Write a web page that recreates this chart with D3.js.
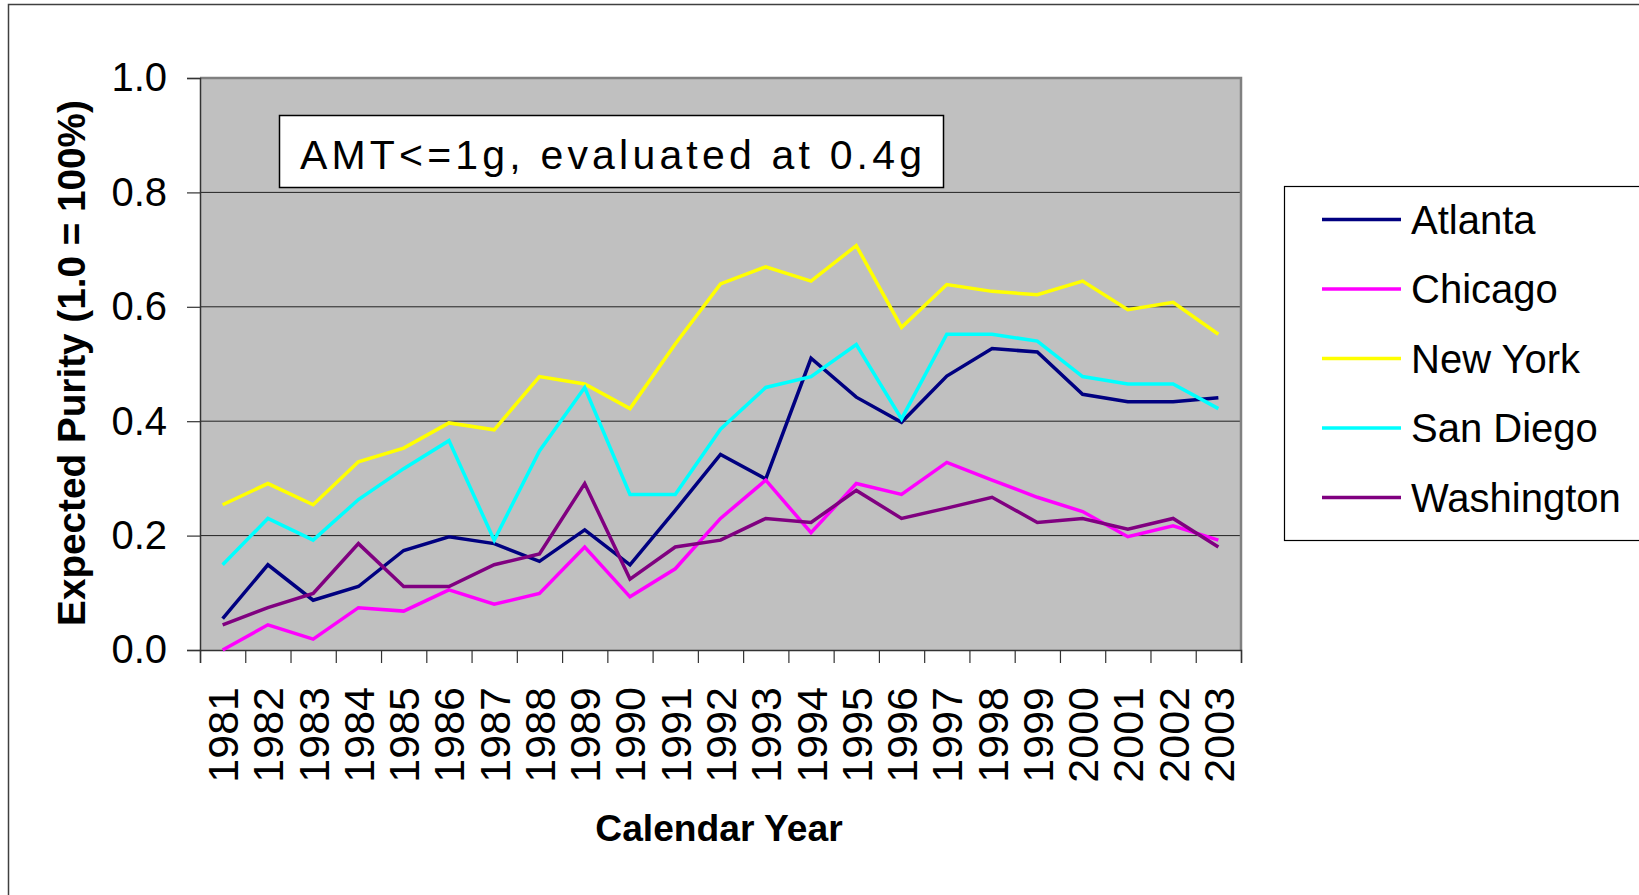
<!DOCTYPE html>
<html>
<head>
<meta charset="utf-8">
<script src="https://cdn.jsdelivr.net/npm/d3@7"></script>
<style>
  html, body { margin: 0; padding: 0; background: #fff; }
  svg { display: block; font-family: "Liberation Sans", Arial, sans-serif; }
</style>
</head>
<body>
<svg id="chart" width="1639" height="895"></svg>
<script>
const years = ["1981","1982","1983","1984","1985","1986","1987","1988","1989","1990","1991","1992",
               "1993","1994","1995","1996","1997","1998","1999","2000","2001","2002","2003"];
const atlanta    = [0.055,0.149,0.087,0.111,0.174,0.198,0.186,0.155,0.210,0.149,0.244,0.342,
                    0.299,0.510,0.442,0.398,0.479,0.527,0.521,0.447,0.434,0.434,0.441];
const chicago    = [0.000,0.044,0.019,0.074,0.068,0.105,0.080,0.099,0.180,0.093,0.142,0.230,
                    0.297,0.205,0.291,0.272,0.328,0.297,0.267,0.242,0.198,0.217,0.192];
const newYork    = [0.254,0.291,0.254,0.329,0.353,0.397,0.385,0.478,0.465,0.422,0.535,0.640,
                    0.670,0.645,0.707,0.564,0.639,0.627,0.621,0.645,0.595,0.608,0.552];
const sanDiego   = [0.149,0.230,0.192,0.263,0.317,0.366,0.192,0.348,0.459,0.272,0.272,0.386,
                    0.459,0.478,0.534,0.404,0.552,0.552,0.540,0.478,0.465,0.465,0.422];
const washington = [0.044,0.074,0.099,0.186,0.111,0.111,0.149,0.168,0.291,0.124,0.180,0.192,
                    0.230,0.223,0.279,0.230,0.248,0.267,0.223,0.230,0.211,0.230,0.180];
const seriesNames  = ["Atlanta","Chicago","New York","San Diego","Washington"];
const seriesColors = ["#000080","#FF00FF","#FFFF00","#00FFFF","#800080"];
const seriesValues = [atlanta, chicago, newYork, sanDiego, washington];
const yTicks = [0, 0.2, 0.4, 0.6, 0.8, 1.0];
const yTitle = "Expected Purity (1.0 = 100%)";
const xTitle = "Calendar Year";
const note = "AMT<=1g, evaluated at 0.4g";

const svg = d3.select("#chart");
const L = 200, R = 1241, T = 78, B = 650;

// outer frame
svg.append("rect").attr("x", 8.5).attr("y", 4.5).attr("width", 1700).attr("height", 1000)
  .attr("fill", "none").attr("stroke", "#404040").attr("stroke-width", 1.5);

const x = d3.scaleBand().domain(years).range([L, R]).padding(0);
const xb = d3.scaleLinear().domain([0, years.length]).range([L, R]);
const y = d3.scaleLinear().domain([0, 1]).range([B, T]);

// plot area
svg.append("rect").attr("x", L).attr("y", T).attr("width", R - L).attr("height", B - T)
  .attr("fill", "#C0C0C0");

// gridlines
svg.append("g").selectAll("line").data(yTicks.filter(d => d > 0 && d < 1)).join("line")
  .attr("x1", L).attr("x2", R).attr("y1", d => y(d)).attr("y2", d => y(d))
  .attr("stroke", "#222").attr("stroke-width", 1);

// plot border (top/right gray)
svg.append("path").attr("d", `M${L},${T}H${R}V${B}`)
  .attr("fill", "none").attr("stroke", "#808080").attr("stroke-width", 2.5);

// y axis
const gy = svg.append("g").attr("transform", `translate(${L},0)`)
  .call(d3.axisLeft(y).tickValues(yTicks).tickFormat(d3.format(".1f")).tickSize(13).tickPadding(20));
gy.select(".domain").attr("stroke", "#333").attr("stroke-width", 1.5);
gy.selectAll(".tick line").attr("stroke", "#333").attr("stroke-width", 1.2);
gy.selectAll("text").attr("font-size", 40).attr("fill", "#000")
  .attr("font-family", "'Liberation Sans', Arial, sans-serif");

// x axis ticks at boundaries
const gxb = svg.append("g").attr("transform", `translate(0,${B})`)
  .call(d3.axisBottom(xb).tickValues(d3.range(years.length + 1)).tickFormat("").tickSize(13));
gxb.select(".domain").attr("stroke", "#333").attr("stroke-width", 1.5);
gxb.selectAll(".tick line").attr("stroke", "#333").attr("stroke-width", 1.2);

// x labels
const gx = svg.append("g").attr("transform", `translate(0,${B})`)
  .call(d3.axisBottom(x).tickSize(0));
gx.select(".domain").remove();
gx.selectAll("text")
  .attr("transform", "rotate(-90)")
  .attr("x", -37).attr("y", 0).attr("dy", "0.36em")
  .attr("text-anchor", "end")
  .attr("font-size", 43).attr("fill", "#000")
  .attr("font-family", "'Liberation Sans', Arial, sans-serif");

// lines
const line = d3.line().x((d, i) => x(years[i]) + x.bandwidth() / 2).y(d => y(d));
svg.append("g").selectAll("path").data(seriesValues).join("path")
  .attr("d", d => line(d))
  .attr("fill", "none")
  .attr("stroke", (d, i) => seriesColors[i])
  .attr("stroke-width", 3.5)
  .attr("stroke-linejoin", "miter");

// annotation box
svg.append("rect").attr("x", 279.5).attr("y", 115.5).attr("width", 664).attr("height", 72)
  .attr("fill", "#fff").attr("stroke", "#000").attr("stroke-width", 1.5);
svg.append("text").attr("x", 300).attr("y", 169).attr("font-size", 41)
  .attr("textLength", 622).attr("lengthAdjust", "spacing")
  .text(note);

// axis titles
svg.append("text").attr("transform", "translate(71,363) rotate(-90)")
  .attr("text-anchor", "middle").attr("dy", "0.35em")
  .attr("font-size", 38.7).attr("font-weight", "bold").text(yTitle);
svg.append("text").attr("x", 719).attr("y", 841)
  .attr("text-anchor", "middle")
  .attr("font-size", 37.2).attr("font-weight", "bold").text(xTitle);

// legend
svg.append("rect").attr("x", 1284.5).attr("y", 186.5).attr("width", 400).attr("height", 354)
  .attr("fill", "#fff").attr("stroke", "#000").attr("stroke-width", 1.2);
const lg = svg.append("g").selectAll("g").data(seriesNames).join("g")
  .attr("transform", (d, i) => `translate(0,${219.5 + i * 69.5})`);
lg.append("line").attr("x1", 1322).attr("x2", 1401).attr("y1", 0).attr("y2", 0)
  .attr("stroke", (d, i) => seriesColors[i]).attr("stroke-width", 3.5);
lg.append("text").attr("x", 1411).attr("y", 0).attr("dy", "0.35em")
  .attr("font-size", 40).text(d => d);
</script>
</body>
</html>
